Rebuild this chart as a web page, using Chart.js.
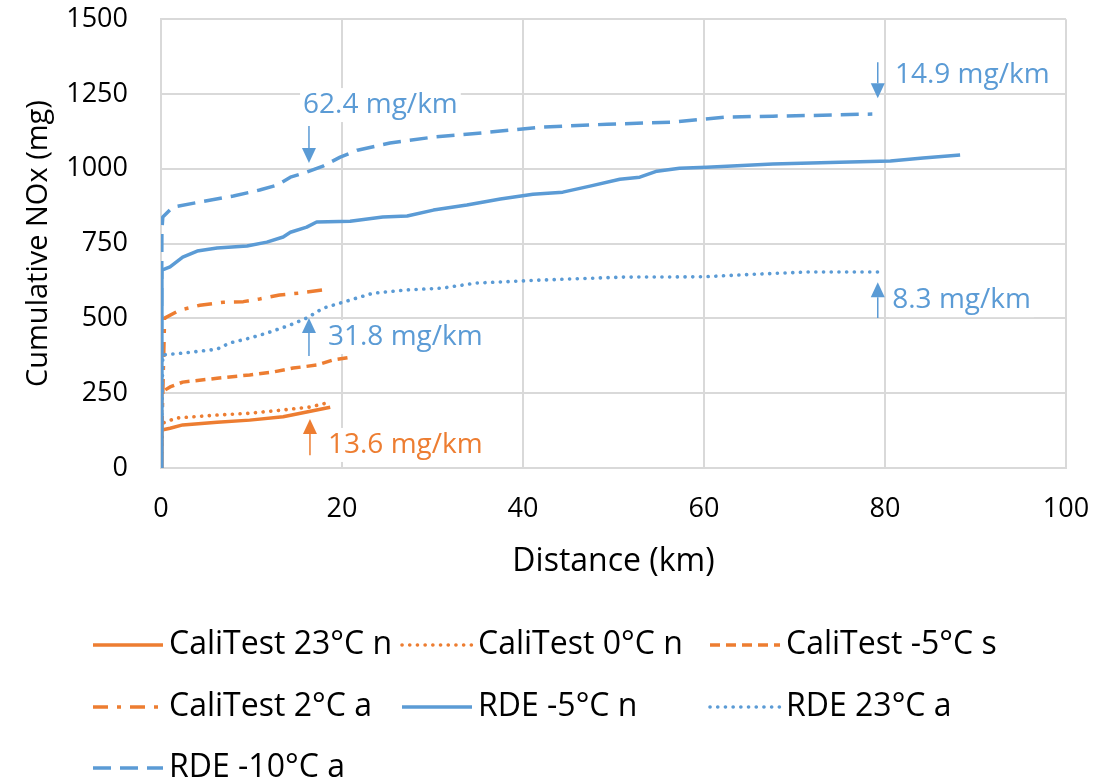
<!DOCTYPE html>
<html>
<head>
<meta charset="utf-8">
<script src="https://cdn.jsdelivr.net/npm/chart.js@4/dist/chart.umd.min.js"></script>
<style>
  html, body { margin: 0; padding: 0; background: #fff; }
  #wrap { width: 1119px; height: 782px; }
</style>
</head>
<body>
<div id="wrap"><canvas id="c" width="1119" height="782"></canvas></div>
<script>
// ---- Data (distance km / cumulative NOx mg) ----
const seriesNames = ['CaliTest 23°C n', 'CaliTest 0°C n', 'CaliTest -5°C s', 'CaliTest 2°C a', 'RDE -5°C n', 'RDE 23°C a', 'RDE -10°C a'];

const cali23nX = [0, 0.1, 1.0, 2.4, 6.2, 9.8, 13.5, 16.1, 18.7];
const cali23nY = [0, 127, 133, 144, 153, 160, 171, 187, 203];

const cali0nX = [0, 0.2, 1.7, 6.2, 9.8, 13.5, 16.5, 18.7];
const cali0nY = [0, 150, 167, 177, 183, 194, 204, 220];

const caliM5sX = [0, 0.1, 1.0, 2.4, 6.2, 9.8, 12.4, 14.6, 17.2, 19.0, 20.9];
const caliM5sY = [0, 254, 271, 287, 300, 311, 321, 334, 344, 361, 370];

const cali2aX = [0, 0.4, 2.1, 4.3, 6.9, 9.1, 10.9, 13.1, 15.4, 17.8];
const cali2aY = [0, 501, 528, 544, 554, 556, 565, 578, 585, 595];

const rdeM5nX = [0, 0.1, 1.0, 2.4, 4.0, 6.2, 9.5, 11.7, 13.5, 14.3, 16.1, 17.2, 20.9, 24.5, 27.2, 30.1, 33.8, 37.5, 41.1, 44.4, 47.4, 50.7, 52.9, 54.8, 57.3, 60.3, 67.6, 75.0, 80.6, 84.2, 88.3];
const rdeM5nY = [0, 661, 672, 705, 725, 735, 742, 755, 772, 788, 805, 822, 825, 839, 842, 862, 879, 899, 915, 922, 942, 965, 972, 992, 1002, 1005, 1016, 1022, 1026, 1036, 1046];

const rde23aX = [0, 0.2, 2.4, 6.2, 7.6, 9.8, 11.7, 14.3, 16.1, 17.9, 20.1, 23.4, 27.0, 31.0, 34.8, 41.9, 51.0, 59.9, 65.9, 71.4, 79.2];
const rde23aY = [0, 378, 384, 397, 418, 434, 451, 478, 501, 534, 554, 584, 595, 601, 618, 628, 638, 639, 648, 655, 655];

const rdeM10aX = [0, 0.1, 0.2, 1.3, 4.3, 8.0, 10.9, 12.8, 14.3, 16.1, 17.9, 19.8, 21.7, 25.3, 30.1, 34.1, 37.5, 41.9, 49.3, 56.6, 59.9, 62.5, 67.6, 73.1, 78.6];
const rdeM10aY = [0, 795, 839, 872, 889, 909, 929, 945, 972, 989, 1009, 1039, 1062, 1086, 1106, 1116, 1126, 1139, 1149, 1156, 1166, 1173, 1176, 1179, 1183];

const xTicks = [0, 20, 40, 60, 80, 100];
const yTicks = [0, 250, 500, 750, 1000, 1250, 1500];

// annotations: label, arrow x (km), arrow tail y, arrow head y, label left x (km), label centre y (mg)
const noteLabels = ['62.4 mg/km', '14.9 mg/km', '8.3 mg/km', '31.8 mg/km', '13.6 mg/km'];
const noteArrowX = [16.35, 79.2, 79.2, 16.35, 16.46];
const noteTailY = [1143, 1356, 501, 374, 43];
const noteHeadY = [1019, 1236, 621, 501, 164];
const noteTextX = [15.7, 81.1, 80.8, 18.45, 18.45];
const noteTextY = [1213, 1313, 561, 438, 77];
const noteGroup = ['rde', 'rde', 'rde', 'rde', 'cali'];

// ---- styling ----
const ORANGE = '#ED7D31';
const BLUE = '#5B9BD5';
const FONT = "'Open Sans', 'Liberation Sans', sans-serif";

function pts(xs, ys) { return xs.map((x, i) => ({ x: x, y: ys[i] })); }

const styles = [
  { color: ORANGE, dash: [], width: 3.5, cap: 'butt' },
  { color: ORANGE, dash: [0.1, 7.6], width: 3.6, cap: 'round' },
  { color: ORANGE, dash: [10, 6], width: 3.5, cap: 'butt' },
  { color: ORANGE, dash: [15, 9, 4, 9], width: 3.5, cap: 'butt' },
  { color: BLUE, dash: [], width: 3.5, cap: 'butt' },
  { color: BLUE, dash: [0.1, 7.6], width: 3.6, cap: 'round' },
  { color: BLUE, dash: [18, 9], width: 3.5, cap: 'butt' }
];
const seriesData = [
  pts(cali23nX, cali23nY), pts(cali0nX, cali0nY), pts(caliM5sX, caliM5sY), pts(cali2aX, cali2aY),
  pts(rdeM5nX, rdeM5nY), pts(rde23aX, rde23aY), pts(rdeM10aX, rdeM10aY)
];

const datasets = seriesNames.map((name, i) => ({
  label: name,
  data: seriesData[i],
  order: seriesNames.length - i,
  borderColor: styles[i].color,
  backgroundColor: styles[i].color,
  borderDash: styles[i].dash,
  borderWidth: styles[i].width,
  borderCapStyle: styles[i].cap,
  borderJoinStyle: 'round',
  showLine: true,
  pointRadius: 0,
  pointHoverRadius: 0,
  tension: 0,
  fill: false
}));

const extras = {
  id: 'extras',
  afterDatasetsDraw(chart) {
    const ctx = chart.ctx;
    const xs = chart.scales.x, ys = chart.scales.y;
    ctx.save();
    ctx.font = '28px ' + FONT;
    ctx.textBaseline = 'middle';
    ctx.textAlign = 'left';
    noteLabels.forEach((t, i) => {
      const col = noteGroup[i] === 'rde' ? BLUE : ORANGE;
      const tx = xs.getPixelForValue(noteTextX[i]);
      const ty = ys.getPixelForValue(noteTextY[i]);
      const w = ctx.measureText(t).width;
      ctx.fillStyle = '#fff';
      ctx.fillRect(tx - 3, ty - 17, w + 6, 34);
      ctx.fillStyle = col;
      ctx.fillText(t, tx, ty);
      const ax = xs.getPixelForValue(noteArrowX[i]);
      const y0 = ys.getPixelForValue(noteTailY[i]);
      const y1 = ys.getPixelForValue(noteHeadY[i]);
      const dir = y1 > y0 ? 1 : -1;
      const hl = 15, hw = 7;
      ctx.strokeStyle = col;
      ctx.lineWidth = 1.5;
      ctx.setLineDash([]);
      ctx.beginPath();
      ctx.moveTo(ax, y0);
      ctx.lineTo(ax, y1 - dir * hl);
      ctx.stroke();
      ctx.beginPath();
      ctx.moveTo(ax, y1);
      ctx.lineTo(ax - hw, y1 - dir * hl);
      ctx.lineTo(ax + hw, y1 - dir * hl);
      ctx.closePath();
      ctx.fill();
    });
    ctx.restore();
  },
  afterDraw(chart) {
    const ctx = chart.ctx;
    ctx.save();
    const colX = [93, 402, 710];
    const rowY = [645, 707, 768];
    const sw = 70;
    ctx.font = '32px ' + FONT;
    ctx.textBaseline = 'middle';
    ctx.textAlign = 'left';
    chart.data.datasets.forEach((ds, i) => {
      const cx = colX[i % 3], cy = rowY[Math.floor(i / 3)];
      ctx.strokeStyle = ds.borderColor;
      ctx.lineWidth = ds.borderWidth;
      ctx.lineCap = ds.borderCapStyle;
      ctx.setLineDash(ds.borderDash);
      ctx.beginPath();
      ctx.moveTo(cx, cy);
      ctx.lineTo(cx + sw, cy);
      ctx.stroke();
      ctx.setLineDash([]);
      ctx.fillStyle = '#000';
      ctx.fillText(ds.label, cx + sw + 6, cy);
    });
    ctx.restore();
  }
};

new Chart(document.getElementById('c'), {
  type: 'scatter',
  data: { datasets: datasets },
  options: {
    responsive: false,
    animation: false,
    events: [],
    layout: { padding: { left: 0, top: 19, right: 53, bottom: 184 } },
    plugins: { legend: { display: false }, tooltip: { enabled: false } },
    scales: {
      x: {
        type: 'linear', min: 0, max: 100,
        afterBuildTicks(s) { s.ticks = xTicks.map(v => ({ value: v })); },
        afterFit(s) { s.height = 130; },
        grid: { color: '#d9d9d9', lineWidth: 2, drawTicks: true, tickLength: 22, tickColor: 'rgba(0,0,0,0)' },
        border: { color: '#d9d9d9', width: 2 },
        ticks: { color: '#000', font: { family: FONT, size: 27 }, padding: 3, maxRotation: 0 },
        title: { display: true, text: 'Distance (km)', color: '#000', font: { family: FONT, size: 32 }, padding: { top: 0, bottom: 17 } }
      },
      y: {
        type: 'linear', min: 0, max: 1500,
        afterBuildTicks(s) { s.ticks = yTicks.map(v => ({ value: v })); },
        afterFit(s) { s.width = 161; },
        grid: { color: '#d9d9d9', lineWidth: 2, drawTicks: true, tickLength: 30, tickColor: 'rgba(0,0,0,0)' },
        border: { color: '#d9d9d9', width: 2 },
        ticks: { color: '#000', font: { family: FONT, size: 27 }, padding: 3, callback: v => String(v) },
        title: { display: true, text: 'Cumulative NOx (mg)', color: '#000', font: { family: FONT, size: 29 }, padding: { top: 21, bottom: 0 } }
      }
    }
  },
  plugins: [extras]
});
</script>
</body>
</html>
